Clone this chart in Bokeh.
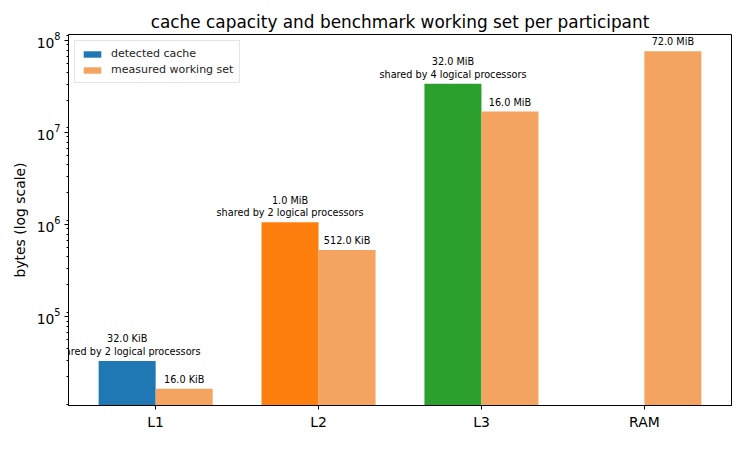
import math
from bokeh.plotting import figure
from bokeh.models import (Range1d, FactorRange, ColumnDataSource, Legend,
                          LegendItem, LogTicker, Label)
from bokeh.transform import dodge
from bokeh.embed import file_html
from bokeh.resources import INLINE

# ---- data ----
levels = ["L1", "L2", "L3", "RAM"]
detected_bytes = [32768, 1048576, 33554432, None]
detected_shared_by = [2, 2, 4, None]
detected_colors = ["#1f77b4", "#ff7f0e", "#2ca02c", None]
measured_bytes = [16384, 524288, 16777216, 75497472]
measured_color = "#f4a460"
title_text = "cache capacity and benchmark working set per participant"
y_label = "bytes (log scale)"
legend_labels = ["detected cache", "measured working set"]


def fmt_bytes(n):
    for unit, scale in (("GiB", 2 ** 30), ("MiB", 2 ** 20), ("KiB", 2 ** 10)):
        if n >= scale:
            return f"{n / scale:.1f} {unit}"
    return f"{n} B"


FONT = "DejaVu Sans"
BAR_W = 0.35

det_idx = [i for i, v in enumerate(detected_bytes) if v is not None]
det_src = ColumnDataSource(dict(
    level=[levels[i] for i in det_idx],
    top=[detected_bytes[i] for i in det_idx],
    color=[detected_colors[i] for i in det_idx],
))
mea_src = ColumnDataSource(dict(
    level=levels,
    top=measured_bytes,
))

lo = min(measured_bytes)
hi = max(measured_bytes)
span = math.log10(hi) - math.log10(lo)
y_range = Range1d(10 ** (math.log10(lo) - 0.05 * span), 10 ** (math.log10(hi) + 0.05 * span))

x_range = FactorRange(*levels, range_padding=0.035, range_padding_units="absolute")

p = figure(width=734, height=434, x_range=x_range, y_range=y_range,
           y_axis_type="log", output_backend="svg", toolbar_location=None,
           title=title_text,
           min_border_left=68, min_border_right=3, min_border_top=34,
           min_border_bottom=29)

p.title.align = "center"
p.title.text_font = FONT
p.title.text_font_size = "16.9px"
p.title.text_font_style = "normal"
p.title.text_color = "black"
p.title.standoff = 5

p.outline_line_color = "black"
p.outline_line_alpha = 1
p.outline_line_width = 1
p.grid.grid_line_color = None

for ax in (p.xaxis[0], p.yaxis[0]):
    ax.axis_line_color = "black"
    ax.major_tick_line_color = "black"
    ax.minor_tick_line_color = "black"
    ax.major_tick_out = 4
    ax.major_tick_in = 0
    ax.minor_tick_out = 2
    ax.minor_tick_in = 0
    ax.major_label_text_font = FONT
    ax.major_label_text_font_size = "13.9px"
    ax.major_label_text_color = "black"
    ax.axis_label_text_font = FONT
    ax.axis_label_text_font_size = "13.9px"
    ax.axis_label_text_font_style = "normal"
    ax.axis_label_text_color = "black"
    ax.major_label_standoff = 4

p.yaxis.ticker = LogTicker(num_minor_ticks=9, mantissas=[1])
p.yaxis.axis_label = y_label
p.yaxis.axis_label_standoff = 6

r1 = p.vbar(x=dodge("level", -BAR_W / 2, range=p.x_range), top="top", bottom=1,
            width=BAR_W, fill_color="color", line_color=None, source=det_src)
r2 = p.vbar(x=dodge("level", BAR_W / 2, range=p.x_range), top="top", bottom=1,
            width=BAR_W, fill_color=measured_color, line_color=None, source=mea_src)

label_style = dict(text_align="center", text_baseline="bottom",
                   text_font=FONT, text_font_size="9.7px", text_color="black")

for i, lvl in enumerate(levels):
    centre = i + 0.5  # synthetic coordinate of the factor on the FactorRange
    if detected_bytes[i] is not None:
        xd = centre - BAR_W / 2
        p.add_layout(Label(x=xd, y=detected_bytes[i], y_offset=4,
                           text="shared by %d logical processors" % detected_shared_by[i],
                           **label_style))
        p.add_layout(Label(x=xd, y=detected_bytes[i], y_offset=16.6,
                           text=fmt_bytes(detected_bytes[i]), **label_style))
    xm = centre + BAR_W / 2
    p.add_layout(Label(x=xm, y=measured_bytes[i], y_offset=4,
                       text=fmt_bytes(measured_bytes[i]), **label_style))

legend = Legend(items=[LegendItem(label=legend_labels[0], renderers=[r1], index=0),
                       LegendItem(label=legend_labels[1], renderers=[r2], index=0)],
                location="top_left")
legend.border_line_color = "#cccccc"
legend.border_line_width = 1
legend.background_fill_alpha = 0.8
legend.label_text_font = FONT
legend.label_text_font_size = "11px"
legend.label_text_color = "#222222"
legend.glyph_width = 22
legend.glyph_height = 8
legend.label_height = 12
legend.spacing = 3
legend.padding = 6
legend.margin = 6
legend.label_standoff = 8
p.add_layout(legend)

open("out.html", "w").write(file_html(p, INLINE))
